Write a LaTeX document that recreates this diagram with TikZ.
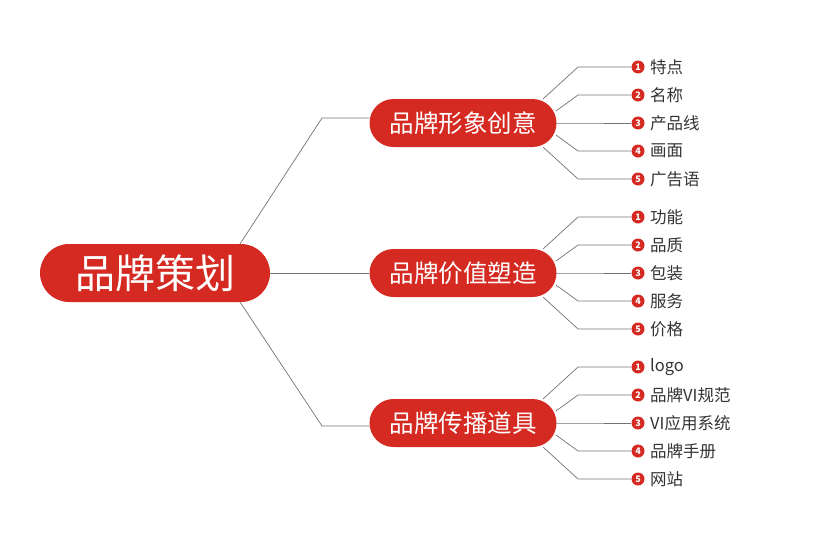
\documentclass[tikz,border=0pt]{standalone}
\usepackage{fontspec}
\setmainfont{Noto Sans CJK SC}
\definecolor{brand}{HTML}{D42A22}
\begin{document}
\begin{tikzpicture}[x=1pt,y=-1pt,
  root/.style={fill=brand,text=white,rounded corners=29pt,minimum width=230pt,minimum height=58pt,inner sep=0pt,font=\fontsize{40}{42}\selectfont},
  mid/.style={fill=brand,text=white,rounded corners=24pt,minimum width=187pt,minimum height=48pt,inner sep=0pt,font=\fontsize{24.5}{26}\selectfont},
  bul/.style={circle,fill=brand,text=white,minimum size=13pt,inner sep=0pt,font=\fontsize{9}{9}\selectfont\bfseries},
  leaf/.style={anchor=west,inner sep=0pt,font=\fontsize{16.5}{18}\selectfont,text=black!80},
  ln/.style={draw=black!55,line width=0.7pt}]
\useasboundingbox (0,0) rectangle (836,552);
\node[root] (r) at (155,273) {品牌策划};
\foreach \i/\y/\t in {1/123/品牌形象创意,2/273/品牌价值塑造,3/423/品牌传播道具}{
  \node[mid] (m\i) at (463,\y) {\t};
}
\coordinate (a1) at (322,118); \coordinate (a3) at (322,426);
\draw[ln] (240,244) -- (a1) -- (m1.west|-a1);
\draw[ln] (r.east) -- (m2.west);
\draw[ln] (240,302) -- (a3) -- (m3.west|-a3);
\foreach \g/\yc/\l in {1/123/{特点,名称,产品线,画面,广告语},2/273/{功能,品质,包装,服务,价格},3/423/{logo,品牌VI规范,VI应用系统,品牌手册,网站}}{
  \foreach \t [count=\k] in \l {
    \pgfmathsetmacro{\yy}{\yc+(\k-3)*28}
    \pgfmathsetmacro{\sy}{\yc+(\k-3)*12}
    \pgfmathsetmacro{\sx}{(\k==1||\k==5)?543:556}
    \node[bul] (b\g\k) at (638,\yy) {\k};
    \node[leaf] (t\g\k) at (650,\yy) {\t};
    \coordinate (e\g\k) at (578,\yy);
    \coordinate (s\g\k) at (\sx,\sy);
    \draw[ln] (s\g\k) -- (e\g\k) -- (b\g\k.west);
  }
}
\end{tikzpicture}
\end{document}
